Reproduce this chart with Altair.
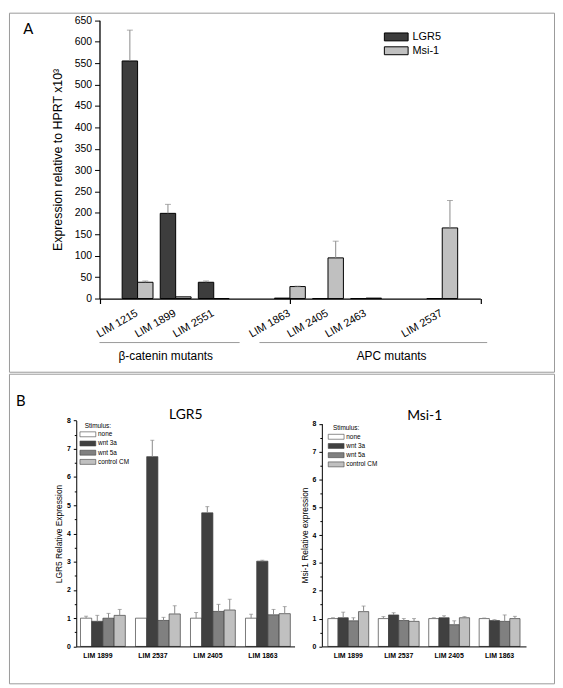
import altair as alt
import pandas as pd

# ---------------- Panel A values ----------------
A_LINES = ["LIM 1215", "LIM 1899", "LIM 2551", "LIM 1863", "LIM 2405", "LIM 2463", "LIM 2537"]
A_POS = [1, 2, 3, 5, 6, 7, 9]
A_SERIES = ["LGR5", "Msi-1"]
A_LGR5 = [555, 199, 38, 1, 0, 0, 0]
A_LGR5_ERR = [72, 21, 3, 0, 0, 0, 0]
A_MSI = [38, 4, 0, 28, 95, 1, 165]
A_MSI_ERR = [3, 0, 0, 1, 39, 0, 64]
A_COLORS = ["#3d3d3d", "#c0c0c0"]
A_GROUPS = ["β-catenin mutants", "APC mutants"]
A_GROUP_FROM = [0.0, 4.2]
A_GROUP_TO = [3.68, 10.18]
A_GROUP_MID = [1.74, 7.67]
A_XTICKS = [0, 5, 10]
A_YTICKS = list(range(0, 651, 50))

# ---------------- Panel B values ----------------
B_LINES = ["LIM 1899", "LIM 2537", "LIM 2405", "LIM 1863"]
B_STIM = ["none", "wnt 3a", "wnt 5a", "control CM"]
B_COLORS = ["#ffffff", "#404040", "#808080", "#c0c0c0"]
B_YTICKS = [i / 2 for i in range(0, 17)]

LGR5_NONE = [1.00, 1.00, 1.00, 1.00]
LGR5_WNT3A = [0.89, 6.72, 4.73, 3.02]
LGR5_WNT5A = [1.00, 0.92, 1.24, 1.12]
LGR5_CTRL = [1.10, 1.15, 1.29, 1.16]
LGR5_NONE_ERR = [0.07, 0.00, 0.20, 0.14]
LGR5_WNT3A_ERR = [0.21, 0.58, 0.22, 0.03]
LGR5_WNT5A_ERR = [0.17, 0.11, 0.25, 0.19]
LGR5_CTRL_ERR = [0.21, 0.29, 0.38, 0.25]

MSI_NONE = [1.00, 1.00, 1.00, 1.00]
MSI_WNT3A = [1.03, 1.13, 1.03, 0.93]
MSI_WNT5A = [0.92, 0.93, 0.78, 0.90]
MSI_CTRL = [1.25, 0.90, 1.03, 1.00]
MSI_NONE_ERR = [0.03, 0.07, 0.03, 0.02]
MSI_WNT3A_ERR = [0.20, 0.08, 0.07, 0.03]
MSI_WNT5A_ERR = [0.11, 0.07, 0.14, 0.23]
MSI_CTRL_ERR = [0.20, 0.10, 0.04, 0.08]

# ---------------- tables ----------------
BAR_W = 0.405  # bar width in x units (style)
rows = []
for i, name in enumerate(A_LINES):
    for s, vals, errs in (("LGR5", A_LGR5, A_LGR5_ERR), ("Msi-1", A_MSI, A_MSI_ERR)):
        left = A_POS[i] - BAR_W if s == "LGR5" else A_POS[i]
        rows.append(dict(line=name, series=s, value=vals[i], err=errs[i],
                         upper=vals[i] + errs[i], x1=left, x2=left + BAR_W,
                         xc=left + BAR_W / 2, base=0))
dfA = pd.DataFrame(rows)
dfLab = pd.DataFrame({"line": A_LINES, "pos": A_POS})
dfG = pd.DataFrame({"group": A_GROUPS, "from": A_GROUP_FROM, "to": A_GROUP_TO, "mid": A_GROUP_MID})


def b_table(series_vals, series_errs):
    r = []
    for stim, vals, errs in zip(B_STIM, series_vals, series_errs):
        for line, v, e in zip(B_LINES, vals, errs):
            r.append(dict(line=line, stim=stim, value=v, err=e, upper=v + e))
    return pd.DataFrame(r)


dfL = b_table([LGR5_NONE, LGR5_WNT3A, LGR5_WNT5A, LGR5_CTRL],
              [LGR5_NONE_ERR, LGR5_WNT3A_ERR, LGR5_WNT5A_ERR, LGR5_CTRL_ERR])
dfM = b_table([MSI_NONE, MSI_WNT3A, MSI_WNT5A, MSI_CTRL],
              [MSI_NONE_ERR, MSI_WNT3A_ERR, MSI_WNT5A_ERR, MSI_CTRL_ERR])

FONT = "Liberation Sans"
ERR_COLOR = "#8a8a8a"

# ---------------- Panel A ----------------
xA = alt.Scale(domain=[0, 10], range=[91.5, 476.5], nice=False, zero=False)
yA = alt.Scale(domain=[0, 650], range=[289, 7.7], nice=False)

axAx = alt.Axis(orient="bottom", offset=-74, values=A_XTICKS, tickCount=20, labels=False,
                ticks=True, tickSize=5, tickColor="black", tickWidth=1.2, domainColor="black",
                domainWidth=1.3, grid=False, title="", zindex=1)
axAy = alt.Axis(orient="left", offset=-91.5, values=A_YTICKS, tickCount=30, tickSize=5,
                tickColor="black", tickWidth=1, domainColor="black", domainWidth=1.3,
                labelFont=FONT, labelFontSize=10.5, labelColor="black", labelPadding=3,
                labelOverlap=False, format="d", grid=False,
                title="Expression relative to HPRT x10³", titleFont=FONT, titleFontSize=12.5,
                titleFontWeight="normal", titleColor="black", titlePadding=10, zindex=1)
legA = alt.Legend(orient="none", legendX=386, legendY=19, title=None, padding=0,
                  symbolType="M-3,-1L3,-1L3,1L-3,1Z", symbolSize=64,
                  symbolStrokeColor="black", symbolStrokeWidth=1, labelFont=FONT,
                  labelFontSize=11, labelColor="black", labelOffset=11, rowPadding=1)

barsA = alt.Chart(dfA).mark_rect(stroke="black", strokeWidth=1).encode(
    x=alt.X("x1:Q", scale=xA, axis=axAx),
    x2="x2:Q",
    y=alt.Y("value:Q", scale=yA, axis=axAy),
    y2="base:Q",
    fill=alt.Fill("series:N", scale=alt.Scale(domain=A_SERIES, range=A_COLORS), legend=legA),
)
errA = alt.Chart(dfA).transform_filter("datum.err > 0")
rulesA = errA.mark_rule(color=ERR_COLOR, strokeWidth=1).encode(
    x=alt.X("xc:Q", scale=xA),
    y=alt.Y("value:Q", scale=yA),
    y2="upper:Q",
)
capsA = errA.mark_tick(orient="horizontal", size=6, thickness=1, color=ERR_COLOR).encode(
    x=alt.X("xc:Q", scale=xA),
    y=alt.Y("upper:Q", scale=yA),
)
labA = alt.Chart(dfLab).mark_text(angle=330, align="right", baseline="top", font=FONT,
                                  fontSize=11, color="black", dx=-4, dy=0).encode(
    x=alt.X("pos:Q", scale=xA),
    y=alt.value(296),
    text="line:N",
)
gLines = alt.Chart(dfG).mark_rule(color="#9a9a9a", strokeWidth=1).encode(
    x=alt.X("from:Q", scale=xA),
    x2="to:Q",
    y=alt.value(333.5),
)
gText = alt.Chart(dfG).mark_text(font=FONT, fontSize=12, color="black").encode(
    x=alt.X("mid:Q", scale=xA),
    y=alt.value(347.5),
    text="group:N",
)
letterA = alt.Chart(pd.DataFrame({"t": ["A"]})).mark_text(font="Lato", fontSize=15, color="black").encode(
    x=alt.value(19.5), y=alt.value(17), text="t:N")

panelA = alt.layer(barsA, rulesA, capsA, labA, gLines, gText, letterA).properties(width=551, height=363)


# ---------------- Panel B ----------------
def b_chart(df, xrange, pin, pout, yrange, yoff, ytitle, leg_x, leg_y, lab_off):
    xs = alt.Scale(domain=B_LINES, range=xrange, paddingInner=pin, paddingOuter=pout)
    ys = alt.Scale(domain=[0, 8], range=yrange, nice=False)
    offs = alt.Scale(domain=B_STIM)
    axx = alt.Axis(orient="bottom", offset=-37.3, ticks=False, domainColor="black",
                   domainWidth=1, labelFont=FONT, labelFontSize=7, labelFontWeight="bold",
                   labelColor="black", labelPadding=5, labelOffset=lab_off, labelAngle=0,
                   title="", grid=False, zindex=1)
    axy = alt.Axis(orient="left", offset=yoff, values=B_YTICKS, tickCount=40,
                   tickSize={"condition": {"test": "datum.value % 1 != 0", "value": 2}, "value": 3},
                   tickColor="black", domainColor="black", domainWidth=1, labelFont=FONT,
                   labelFontSize=7, labelFontWeight="bold", labelColor="black", labelPadding=3,
                   labelOverlap=False,
                   labelExpr="datum.value % 1 == 0 ? format(datum.value, 'd') : ''",
                   grid=False,
                   title=ytitle, titleFont=FONT, titleFontSize=8.5, titleFontWeight="normal",
                   titleColor="black", titlePadding=3, zindex=1)
    leg = alt.Legend(orient="none", legendX=leg_x, legendY=leg_y, title="Stimulus:", padding=0,
                     titleFont=FONT, titleFontSize=6.5, titleFontWeight="normal",
                     titleColor="black", titlePadding=2,
                     symbolType="M-3.2,-1L3.2,-1L3.2,1L-3.2,1Z", symbolSize=25,
                     symbolStrokeColor="#404040", symbolStrokeWidth=0.6, labelFont=FONT,
                     labelFontSize=6.5, labelColor="black", labelOffset=7, rowPadding=1.3)
    base = alt.Chart(df)
    bars = base.mark_bar(stroke="#404040", strokeWidth=0.7).encode(
        x=alt.X("line:N", scale=xs, sort=B_LINES, axis=axx),
        xOffset=alt.XOffset("stim:N", scale=offs, sort=B_STIM),
        y=alt.Y("value:Q", scale=ys, axis=axy),
        fill=alt.Fill("stim:N", scale=alt.Scale(domain=B_STIM, range=B_COLORS), legend=leg),
    )
    eb = base.transform_filter("datum.err > 0")
    rules = eb.mark_rule(color=ERR_COLOR, strokeWidth=1).encode(
        x=alt.X("line:N", scale=xs, sort=B_LINES),
        xOffset=alt.XOffset("stim:N", scale=offs, sort=B_STIM),
        y=alt.Y("value:Q", scale=ys),
        y2="upper:Q",
    )
    caps = eb.mark_tick(orient="horizontal", size=4, thickness=1, color=ERR_COLOR).encode(
        x=alt.X("line:N", scale=xs, sort=B_LINES),
        xOffset=alt.XOffset("stim:N", scale=offs, sort=B_STIM),
        y=alt.Y("upper:Q", scale=ys),
    )
    return alt.layer(bars, rules, caps)


lgrB = b_chart(dfL, [68, 288.7], 0.185, 0.077, [275.7, 47.3], -68,
               "LGR5 Relative Expression", 76.5, 49.5, -5)
msiB = b_chart(dfM, [316.3, 522.7], 0.19, 0.119, [275.7, 50.5], -316.3,
               "Msi-1 Relative expression", 327.5, 52, 0)


def label(text, x, y, size, font="Lato"):
    return alt.Chart(pd.DataFrame({"t": [text]})).mark_text(
        font=font, fontSize=size, color="black").encode(
        x=alt.value(x), y=alt.value(y), text="t:N")


panelB = alt.layer(
    lgrB, msiB,
    label("LGR5", 178.7, 42, 14),
    label("Msi-1", 420.3, 43, 14),
    label("B", 12, 27.5, 15),
).resolve_scale(
    x="independent", y="independent", xOffset="independent", fill="independent"
).resolve_axis(x="independent", y="independent").resolve_legend(fill="independent").properties(
    width=551, height=313)

chart = alt.vconcat(panelA, panelB, spacing=0).properties(padding=0).configure_view(
    stroke="#9a9a9a", strokeWidth=1)

chart.save("out.html", embed_options={"renderer": "svg", "actions": False})
